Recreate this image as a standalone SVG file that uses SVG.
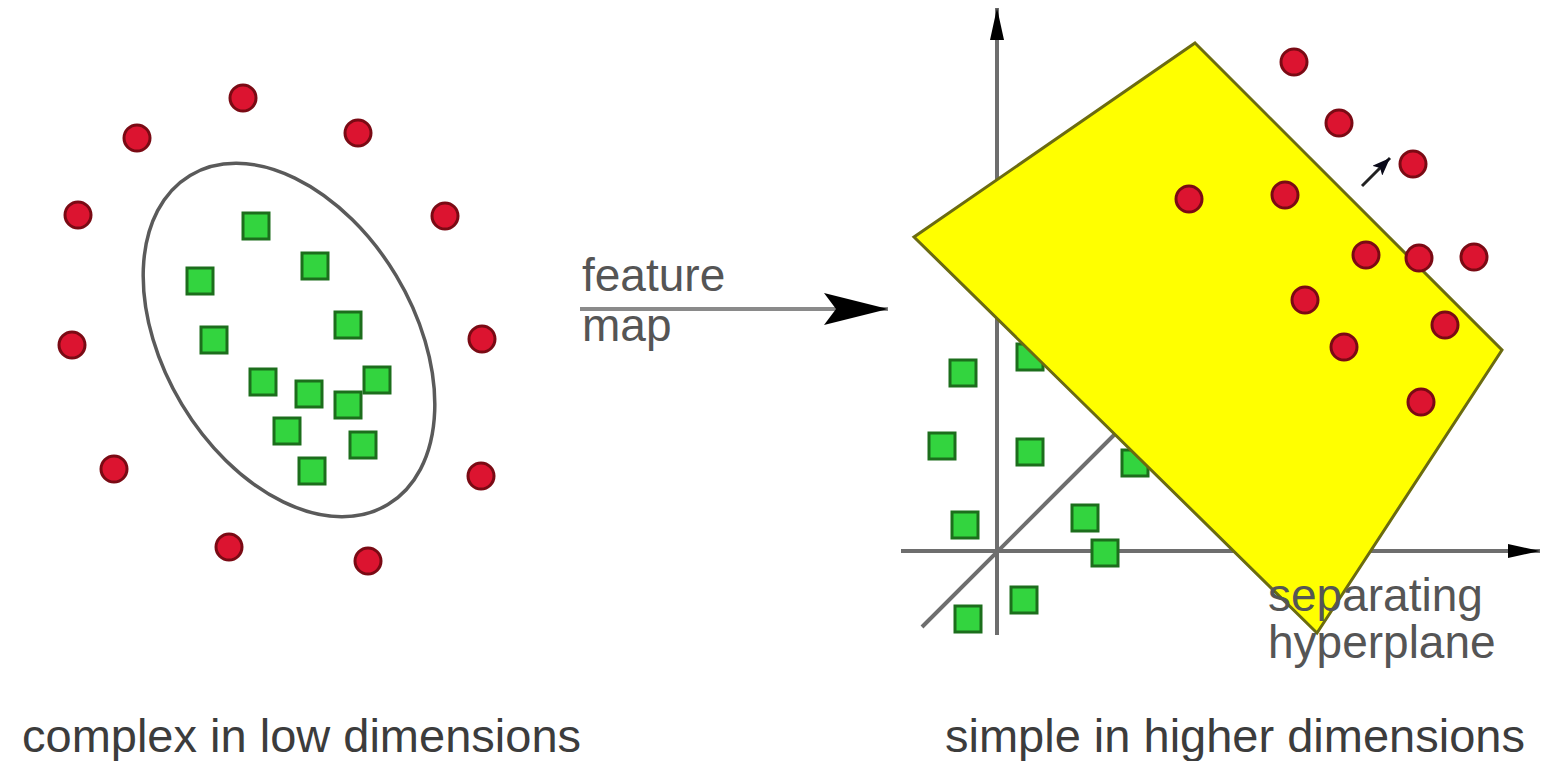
<svg xmlns="http://www.w3.org/2000/svg" width="1546" height="761" viewBox="0 0 1546 761">
<style>
.red{fill:#dc1430;stroke:#7a0a14;stroke-width:3}
.grn{fill:#33d43f;stroke:#1c6e1c;stroke-width:3}
.lbl{font-family:"Liberation Sans",Arial,sans-serif;font-size:47px;fill:#3c3c3c}
.sm{font-family:"Liberation Sans",Arial,sans-serif;font-size:46px;fill:#555}
.axis{stroke:#6e6e6e;stroke-width:4;fill:none}
</style>
<defs>
<marker id="ah" markerUnits="userSpaceOnUse" markerWidth="34" markerHeight="16" refX="32" refY="8" orient="auto">
<path d="M0,1 L32,8 L0,15 Z" fill="#000"/>
</marker>
<marker id="fm" markerUnits="userSpaceOnUse" markerWidth="66" markerHeight="32" refX="64" refY="16" orient="auto">
<path d="M0,0 L64,16 L0,32 L12,16 Z" fill="#000"/>
</marker>
<marker id="sa" markerUnits="userSpaceOnUse" markerWidth="20" markerHeight="14" refX="18" refY="7" orient="auto">
<path d="M0,0 L18,7 L0,14 L4,7 Z" fill="#0a0a1a"/>
</marker>
</defs>
<rect width="1546" height="761" fill="#fff"/>

<g id="left-panel">
<ellipse id="boundary" cx="289" cy="340" rx="125" ry="192" transform="rotate(-31 289 340)" fill="none" stroke="#5a5a5a" stroke-width="3.5"/>
<g id="left-red">
<circle class="red" cx="243" cy="98" r="13"/>
<circle class="red" cx="137" cy="138" r="13"/>
<circle class="red" cx="358" cy="133" r="13"/>
<circle class="red" cx="78" cy="215" r="13"/>
<circle class="red" cx="445" cy="216" r="13"/>
<circle class="red" cx="72" cy="345" r="13"/>
<circle class="red" cx="482" cy="339" r="13"/>
<circle class="red" cx="114" cy="469" r="13"/>
<circle class="red" cx="481" cy="476" r="13"/>
<circle class="red" cx="229" cy="547" r="13"/>
<circle class="red" cx="368" cy="561" r="13"/>
</g>
<g id="left-green">
<rect class="grn" x="243" y="213" width="26" height="26"/>
<rect class="grn" x="187" y="268" width="26" height="26"/>
<rect class="grn" x="302" y="253" width="26" height="26"/>
<rect class="grn" x="335" y="312" width="26" height="26"/>
<rect class="grn" x="201" y="327" width="26" height="26"/>
<rect class="grn" x="250" y="369" width="26" height="26"/>
<rect class="grn" x="296" y="381" width="26" height="26"/>
<rect class="grn" x="364" y="367" width="26" height="26"/>
<rect class="grn" x="335" y="392" width="26" height="26"/>
<rect class="grn" x="274" y="418" width="26" height="26"/>
<rect class="grn" x="350" y="432" width="26" height="26"/>
<rect class="grn" x="299" y="458" width="26" height="26"/>
</g>
</g>

<g id="connectors">
<line id="feature-arrow" x1="580" y1="309" x2="888" y2="309" stroke="#8a8a8a" stroke-width="4" marker-end="url(#fm)"/>
<line id="y-axis" class="axis" x1="997" y1="635" x2="997" y2="8" marker-end="url(#ah)"/>
<line id="x-axis" class="axis" x1="901" y1="551" x2="1540" y2="551" marker-end="url(#ah)"/>
<line id="z-axis" class="axis" x1="922" y1="627" x2="1150" y2="399" stroke-width="3.5"/>
</g>

<g id="right-panel">
<g id="right-green">
<rect class="grn" x="950" y="360" width="26" height="26"/>
<rect class="grn" x="929" y="433" width="26" height="26"/>
<rect class="grn" x="1017" y="439" width="26" height="26"/>
<rect class="grn" x="952" y="512" width="26" height="26"/>
<rect class="grn" x="1072" y="505" width="26" height="26"/>
<rect class="grn" x="1092" y="540" width="26" height="26"/>
<rect class="grn" x="1011" y="587" width="26" height="26"/>
<rect class="grn" x="955" y="606" width="26" height="26"/>
<rect class="grn" x="1017" y="344" width="26" height="26"/>
<rect class="grn" x="1122" y="450" width="26" height="26"/>
</g>
<polygon id="hyperplane" points="1195,43 1502,350 1317,633 914,237" fill="#ffff00" stroke="#6b6b10" stroke-width="3"/>
<g id="right-red">
<circle class="red" cx="1294" cy="62" r="13"/>
<circle class="red" cx="1339" cy="123" r="13"/>
<circle class="red" cx="1413" cy="164" r="13"/>
<circle class="red" cx="1474" cy="257" r="13"/>
<circle class="red" cx="1189" cy="199" r="13"/>
<circle class="red" cx="1285" cy="195" r="13"/>
<circle class="red" cx="1366" cy="255" r="13"/>
<circle class="red" cx="1419" cy="258" r="13"/>
<circle class="red" cx="1305" cy="300" r="13"/>
<circle class="red" cx="1445" cy="325" r="13"/>
<circle class="red" cx="1344" cy="347" r="13"/>
<circle class="red" cx="1421" cy="402" r="13"/>
</g>
<line id="normal-arrow" x1="1362" y1="186" x2="1390" y2="158" stroke="#222" stroke-width="3" marker-end="url(#sa)"/>
</g>

<g id="labels">
<text class="sm" x="582" y="291">feature</text>
<text class="sm" x="582" y="341">map</text>
<text class="sm" x="1268" y="611" fill="#444">separating</text>
<text class="sm" x="1268" y="658" fill="#444">hyperplane</text>
<text class="lbl" x="22" y="752">complex in low dimensions</text>
<text class="lbl" x="945" y="752">simple in higher dimensions</text>
</g>
</svg>
